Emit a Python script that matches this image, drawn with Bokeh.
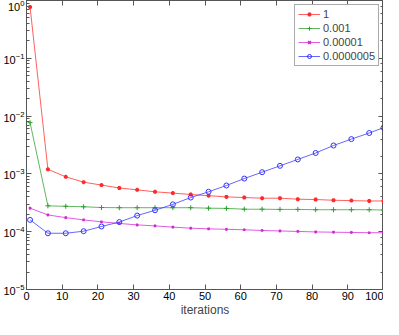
from bokeh.plotting import figure
from bokeh.models import LogAxis, LinearAxis, Range1d, FixedTicker, Legend, LegendItem, CustomJSTickFormatter
from bokeh.embed import file_html
from bokeh.resources import INLINE

iters = [1, 6, 11, 16, 21, 26, 31, 36, 41, 46, 51, 56, 61, 66, 71, 76, 81, 86, 91, 96, 100]
s_1 = [0.77, 1.2e-3, 8.9e-4, 7.2e-4, 6.4e-4, 5.7e-4, 5.3e-4, 4.9e-4, 4.65e-4, 4.4e-4, 4.2e-4,
       4.0e-4, 3.9e-4, 3.8e-4, 3.8e-4, 3.65e-4, 3.6e-4, 3.5e-4, 3.45e-4, 3.4e-4, 3.4e-4]
s_0001 = [7.7e-3, 2.8e-4, 2.75e-4, 2.7e-4, 2.62e-4, 2.6e-4, 2.6e-4, 2.6e-4, 2.6e-4, 2.6e-4, 2.55e-4,
          2.53e-4, 2.45e-4, 2.45e-4, 2.43e-4, 2.43e-4, 2.4e-4, 2.4e-4, 2.4e-4, 2.4e-4, 2.37e-4]
s_00001 = [2.55e-4, 1.95e-4, 1.75e-4, 1.6e-4, 1.48e-4, 1.39e-4, 1.31e-4, 1.26e-4, 1.2e-4, 1.15e-4, 1.12e-4,
           1.1e-4, 1.08e-4, 1.05e-4, 1.03e-4, 1.01e-4, 9.9e-5, 9.8e-5, 9.7e-5, 9.6e-5, 9.6e-5]
s_0000005 = [1.6e-4, 9.4e-5, 9.4e-5, 1.02e-4, 1.23e-4, 1.47e-4, 1.9e-4, 2.35e-4, 2.97e-4, 3.9e-4, 4.9e-4,
             6.3e-4, 8.3e-4, 1.07e-3, 1.38e-3, 1.78e-3, 2.3e-3, 3.1e-3, 4.0e-3, 5.1e-3, 6.3e-3]
labels = ["1", "0.001", "0.00001", "0.0000005"]
x_ticks = [0, 10, 20, 30, 40, 50, 60, 70, 80, 90, 100]

FONT = "Liberation Sans"

p = figure(width=383, height=319, y_axis_type="log", output_backend="svg",
           toolbar_location=None, x_range=Range1d(0, 100), y_range=Range1d(1e-5, 1),
           min_border_left=0, min_border_right=0, min_border_top=0, min_border_bottom=0)
p.grid.visible = False
p.outline_line_color = "#555555"
p.background_fill_color = "white"
p.border_fill_color = "white"

for ax in [p.xaxis[0], p.yaxis[0]]:
    ax.major_tick_in = 5
    ax.major_tick_out = 0
    ax.minor_tick_in = 3
    ax.minor_tick_out = 0
    ax.axis_line_color = "#555555"
    ax.major_tick_line_color = "#555555"
    ax.minor_tick_line_color = "#555555"
    ax.major_label_text_font = FONT
    ax.major_label_text_font_size = "11px"
    ax.major_label_text_color = "black"
    ax.major_label_standoff = 2
p.xaxis[0].ticker = FixedTicker(ticks=x_ticks)
p.xaxis[0].axis_label = "iterations"
p.xaxis[0].axis_label_text_font = FONT
p.xaxis[0].axis_label_text_font_size = "12px"
p.xaxis[0].axis_label_text_font_style = "normal"
p.xaxis[0].axis_label_standoff = 0

top = LinearAxis(ticker=FixedTicker(ticks=x_ticks), formatter=CustomJSTickFormatter(code="return ''"),
                 major_tick_in=5, major_tick_out=0, minor_tick_in=0, minor_tick_out=0,
                 major_label_standoff=0, major_label_text_font_size="1px",
                 axis_line_color="#555555", major_tick_line_color="#555555")
right = LogAxis(formatter=CustomJSTickFormatter(code="return ''"),
                major_tick_in=5, major_tick_out=0, minor_tick_in=3, minor_tick_out=0,
                major_label_standoff=0, major_label_text_font_size="1px",
                axis_line_color="#555555", major_tick_line_color="#555555",
                minor_tick_line_color="#555555")
p.add_layout(top, "above")
p.add_layout(right, "right")

series = [s_1, s_0001, s_00001, s_0000005]
colors = ["#ff2a2a", "#2e9e2e", "#d426d4", "#3333ff"]
items = []
for lab, ys, c, i in zip(labels, series, colors, range(4)):
    r = p.line(iters, ys, line_color=c, line_width=1, line_alpha=0.75)
    if i == 0:
        m = p.scatter(iters, ys, marker="asterisk", size=4, line_color=c, line_width=1.5)
    elif i == 1:
        m = p.scatter(iters, ys, marker="cross", size=5, line_color=c, line_width=1)
    elif i == 2:
        m = p.scatter(iters, ys, marker="x", size=3, line_color=c, line_width=1.5)
    else:
        m = p.scatter(iters, ys, marker="circle", size=5, line_color=c, fill_color=None, line_width=1)
    items.append(LegendItem(label=lab, renderers=[r, m]))

legend = Legend(items=items, location="top_right", border_line_color="#555555",
                label_text_font=FONT, label_text_font_size="11px",
                glyph_width=22, glyph_height=10, label_height=10, spacing=2,
                padding=3, margin=4, label_standoff=3, background_fill_alpha=1)
p.add_layout(legend)

open("out.html", "w").write(file_html(p, INLINE))
